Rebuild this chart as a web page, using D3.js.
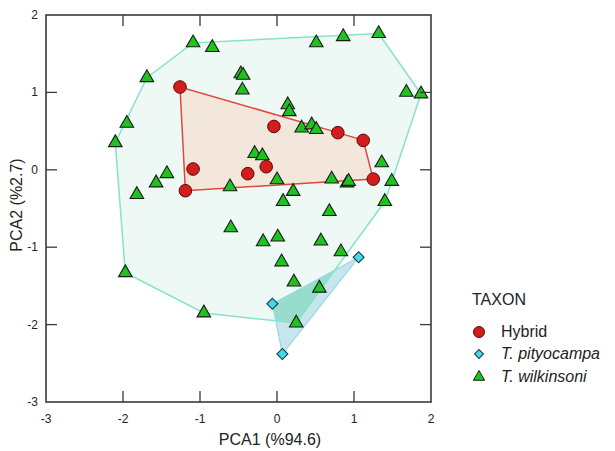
<!DOCTYPE html>
<html><head><meta charset="utf-8">
<script src="https://cdn.jsdelivr.net/npm/d3@7"></script>
<style>body{margin:0;background:#fff;} svg{display:block;font-family:Arial,"Liberation Sans",sans-serif;}</style>
</head><body><svg id="c" width="615" height="451"></svg>
<script>
const xTicks = [-3,-2,-1,0,1,2];
const yTicks = [-3,-2,-1,0,1,2];
const hybridX = [-1.26,-1.09,-1.19,-0.04,0.79,1.12,-0.14,-0.38,1.25];
const hybridY = [1.07,0.01,-0.27,0.56,0.48,0.38,0.04,-0.05,-0.12];
const pityX = [1.06,-0.06,0.07];
const pityY = [-1.13,-1.73,-2.38];
const wilkX = [-1.09,-0.84,-1.69,-1.95,-2.10,-1.43,-1.57,-1.82,-0.61,-0.47,-0.44,-0.45,
  0.51,0.86,1.32,1.68,1.87,0.14,0.16,0.32,0.45,0.51,-0.29,-0.19,0.00,0.71,0.91,0.93,1.36,1.49,
  0.21,0.08,1.40,0.68,-1.97,-0.95,-0.60,-0.18,0.01,0.57,0.83,0.06,0.22,0.55,0.25];
const wilkY = [1.64,1.58,1.19,0.60,0.35,-0.05,-0.17,-0.32,-0.22,1.24,1.22,1.03,
  1.64,1.72,1.76,1.00,0.98,0.84,0.75,0.54,0.58,0.52,0.21,0.18,-0.13,-0.12,-0.17,-0.15,0.09,-0.15,
  -0.28,-0.41,-0.41,-0.54,-1.33,-1.85,-0.75,-0.93,-0.87,-0.92,-1.06,-1.19,-1.45,-1.53,-1.98];
const legendLabels = ["Hybrid","T. pityocampa","T. wilkinsoni"];

const svg = d3.select("#c");
const x = d3.scaleLinear().domain([-3,2]).range([46,431]);
const y = d3.scaleLinear().domain([-3,2]).range([402,15]);

const pts = (xs,ys)=>xs.map((v,i)=>[x(v),y(ys[i])]);
const hyb = pts(hybridX,hybridY), pit = pts(pityX,pityY), wil = pts(wilkX,wilkY);
const wilHull = "M"+d3.polygonHull(wil).join("L")+"Z";
const pitPath = "M"+d3.polygonHull(pit).join("L")+"Z";

svg.append("defs").append("clipPath").attr("id","wclip").append("path").attr("d",wilHull);

const g = svg.append("g");
// hulls
g.append("path").attr("d",wilHull).attr("fill","#eef9f5").attr("stroke","none");
g.append("path").attr("d",pitPath).attr("fill","#c6e6ee").attr("stroke","none");
g.append("path").attr("d",pitPath).attr("clip-path","url(#wclip)").attr("fill","#98dccd").attr("stroke","none");
g.append("path").attr("d",wilHull).attr("fill","none").attr("stroke","#86e3c4").attr("stroke-width",1.5);
g.append("path").attr("d",pitPath).attr("fill","none").attr("stroke","#9ad8e6").attr("stroke-width",1.2);
g.append("path").attr("d","M"+d3.polygonHull(hyb).join("L")+"Z")
  .attr("fill","#f3e7dc").attr("stroke","#e0483c").attr("stroke-width",1.5);

// frame & ticks
const axisCol = "#3a3a3a";
svg.append("rect").attr("x",46).attr("y",15).attr("width",385).attr("height",387)
  .attr("fill","none").attr("stroke",axisCol).attr("stroke-width",1.6);
const inner = [-2,-1,0,1];
inner.forEach(t=>{
  svg.append("line").attr("x1",x(t)).attr("x2",x(t)).attr("y1",402).attr("y2",391).attr("stroke",axisCol).attr("stroke-width",1.3);
  svg.append("line").attr("x1",x(t)).attr("x2",x(t)).attr("y1",15).attr("y2",26).attr("stroke",axisCol).attr("stroke-width",1.3);
  svg.append("line").attr("y1",y(t)).attr("y2",y(t)).attr("x1",46).attr("x2",57).attr("stroke",axisCol).attr("stroke-width",1.3);
  svg.append("line").attr("y1",y(t)).attr("y2",y(t)).attr("x1",431).attr("x2",420).attr("stroke",axisCol).attr("stroke-width",1.3);
});
svg.selectAll(".xt").data(xTicks).enter().append("text")
  .attr("x",d=>x(d)).attr("y",423).attr("text-anchor","middle")
  .attr("font-size",12).attr("fill","#222").text(d=>d);
svg.selectAll(".yt").data(yTicks).enter().append("text")
  .attr("x",38).attr("y",d=>y(d)+4).attr("text-anchor","end")
  .attr("font-size",12).attr("fill","#222").text(d=>d);

svg.append("text").attr("x",270).attr("y",445).attr("text-anchor","middle")
  .attr("font-size",16).attr("fill","#222").text("PCA1 (%94.6)");
svg.append("text").attr("transform","translate(22,205) rotate(-90)").attr("text-anchor","middle")
  .attr("font-size",16).attr("fill","#222").text("PCA2 (%2.7)");

// markers
const tri = d3.symbol(d3.symbolTriangle, 80)();
const sq = d3.symbol(d3.symbolSquare, 60)();
g.selectAll(".w").data(wil).enter().append("path").attr("d",tri)
  .attr("transform",d=>`translate(${d[0]},${d[1]})`)
  .attr("fill","#1fc21f").attr("stroke","#1a1a1a").attr("stroke-width",1.1);
g.selectAll(".h").data(hyb).enter().append("circle")
  .attr("cx",d=>d[0]).attr("cy",d=>d[1]).attr("r",6.3)
  .attr("fill","#d41c1c").attr("stroke","#5a0a0a").attr("stroke-width",1);
g.selectAll(".p").data(pit).enter().append("path").attr("d",sq)
  .attr("transform",d=>`translate(${d[0]},${d[1]}) rotate(45)`)
  .attr("fill","#45d8ea").attr("stroke","#1a3a40").attr("stroke-width",1.1);

// legend
svg.append("text").attr("x",472).attr("y",305).attr("font-size",16).attr("fill","#222").text("TAXON");
const ly = [332,354,377];
svg.append("circle").attr("cx",479).attr("cy",ly[0]).attr("r",5.5)
  .attr("fill","#d41c1c").attr("stroke","#5a0a0a").attr("stroke-width",1);
svg.append("path").attr("d",d3.symbol(d3.symbolSquare,40)()).attr("transform",`translate(479,${ly[1]}) rotate(45)`)
  .attr("fill","#45d8ea").attr("stroke","#1a3a40").attr("stroke-width",1);
svg.append("path").attr("d",d3.symbol(d3.symbolTriangle,55)()).attr("transform",`translate(479,${ly[2]})`)
  .attr("fill","#1fc21f").attr("stroke","#1a1a1a").attr("stroke-width",1);
legendLabels.forEach((t,i)=>{
  svg.append("text").attr("x",501).attr("y",ly[i]+5).attr("font-size",16)
    .attr("font-style",i>0?"italic":"normal").attr("fill","#222").text(t);
});
</script></body></html>
